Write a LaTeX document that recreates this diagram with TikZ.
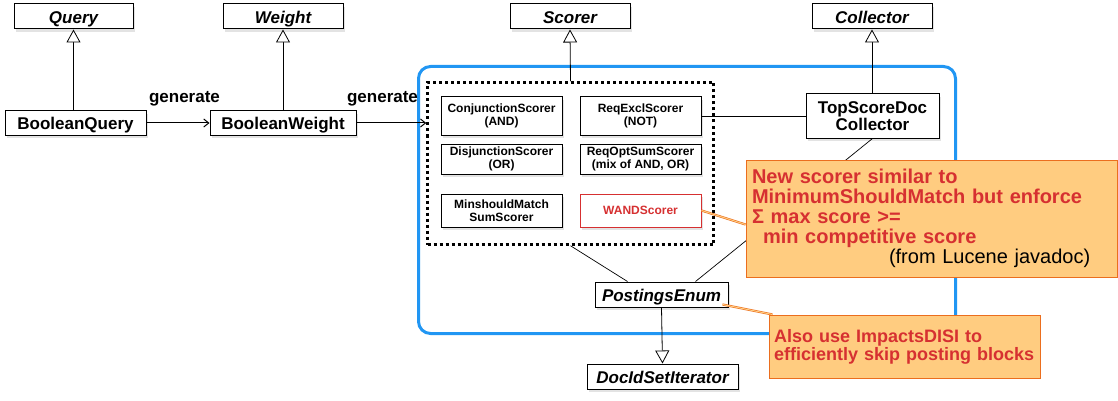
\documentclass[tikz,border=0pt]{standalone}
\usepackage{fontspec}
\setmainfont{Liberation Sans}
\usetikzlibrary{arrows.meta,shadows}
\definecolor{panelblue}{RGB}{33,150,243}
\definecolor{notefill}{RGB}{255,204,128}
\definecolor{noteline}{RGB}{235,110,30}
\definecolor{notered}{RGB}{214,48,49}
\NewDocumentCommand\PxFont{mm}{\fontsize{#1}{#2}\selectfont}
\tikzset{
  cls/.style={draw,fill=white,line width=1pt,inner sep=0pt,
    drop shadow={opacity=0.22,shadow xshift=2pt,shadow yshift=-3pt},
    text height=13.5pt,text depth=0pt,
    font=\bfseries\PxFont{17}{18}},
  abscls/.style={cls,font=\bfseries\itshape\PxFont{17}{18}},
  scr/.style={cls,align=center,minimum width=121,text height=,text depth=,
    font=\bfseries\PxFont{12}{12.5}},
  note/.style={draw=noteline,fill=notefill,line width=1pt,inner ysep=0pt,
    align=left,text=notered},
  inherit/.style={-{Triangle[open,length=13pt,width=14pt,fill=white]},line width=0.8pt},
  gen/.style={-{Straight Barb[length=5pt,width=8pt]},line width=1pt},
  link/.style={line width=0.7pt},
  callout/.style={draw=noteline,double=notefill,double distance=1pt,line width=0.6pt},
}

\begin{document}
\begin{tikzpicture}[x=1pt,y=-1pt]
\useasboundingbox (0,0) rectangle (1118,401);
% blue panel round the scorers
\draw[panelblue,line width=3pt,rounded corners=12pt] (418.5,66.5) rectangle (955.5,333.5);

% abstract classes
\node[abscls,minimum width=119,minimum height=25] (query) at (73.5,16.5) {Query};
\node[abscls,minimum width=120,minimum height=25] (weight) at (283,16.5) {Weight};
\node[abscls,minimum width=120,minimum height=25] (scorer) at (570,16.5) {Scorer};
\node[abscls,minimum width=120,minimum height=25] (collector) at (872,16.5) {Collector};

\node[cls,minimum width=141,minimum height=24] (bquery) at (75.5,123) {BooleanQuery};
\node[cls,minimum width=146,minimum height=24] (bweight) at (283,123) {BooleanWeight};
\node[font=\bfseries\PxFont{17}{18}] (gen1) at (184.5,99) {generate};
\node[font=\bfseries\PxFont{17}{18}] (gen2) at (382.5,99) {generate};

% scorer group
\node[draw,line width=2.5pt,dash pattern=on 3pt off 3pt,minimum width=286,minimum height=162]
  (group) at (570.5,163.5) {};
\node[scr,minimum height=38] (conj) at (501.5,116) {ConjunctionScorer\\(AND)};
\node[scr,minimum height=38] (reqexcl) at (640.5,116) {ReqExclScorer\\(NOT)};
\node[scr,minimum height=30] (disj) at (501.5,159) {DisjunctionScorer\\(OR)};
\node[scr,minimum height=30] (reqopt) at (640.5,159) {ReqOptSumScorer\\(mix of AND, OR)};
\node[scr,minimum height=33] (minshould) at (501.5,210.5) {MinshouldMatch\\SumScorer};
\node[scr,minimum height=33,draw=notered,text=notered] (wand) at (640.5,210.5) {WANDScorer};

\node[cls,minimum width=133,minimum height=44,align=center,text height=,text depth=,
  font=\bfseries\PxFont{17}{17}] (topdoc) at (872.5,116) {TopScoreDoc\\Collector};
\node[abscls,minimum width=133,minimum height=25] (postings) at (661.5,294.5) {PostingsEnum};
\node[abscls,minimum width=151,minimum height=25] (docid) at (662.5,376.5) {DocIdSetIterator};

% connectors
\draw[inherit] (bquery.north -| query.south) -- (query.south);
\draw[inherit] (bweight.north) -- (weight.south);
\draw[inherit] (group.north) -- (scorer.south);
\draw[inherit] (topdoc.north -| collector.south) -- (collector.south);
\draw[inherit] (postings.south) -- (docid.north);
\draw[gen] (bquery.east) -- (bweight.west);
\draw[gen] (bweight.east) -- (bweight.east -| group.west);
\draw[link] (reqexcl.east) -- (topdoc.west);
\draw[link] (group.south) -- ([xshift=-34pt]postings.north);
\draw[link] (topdoc.south) -- ([xshift=34pt]postings.north);

% notes
\node[note,inner xsep=6pt,text width=359,minimum height=117,font=\bfseries\PxFont{20}{20}]
  (note1) at (931.5,218.5) {New scorer similar to\\
  MinimumShouldMatch but enforce\\
  Σ max score >=\\
  \hspace*{11pt}min competitive score\\
  \hspace*{137pt}{\mdseries\color{black}(from Lucene javadoc)}};
\node[note,inner xsep=5pt,text width=261,minimum height=63,font=\bfseries\PxFont{18}{18}]
  (note2) at (904.5,346.5) {Also use ImpactsDISI to\\efficiently skip posting blocks};
\draw[callout] (wand.east) -- ([yshift=-6pt]note1.west);
\draw[callout] ([xshift=-6pt,yshift=3pt]postings.south east) -- ([xshift=4pt]note2.north west);
\end{tikzpicture}
\end{document}
